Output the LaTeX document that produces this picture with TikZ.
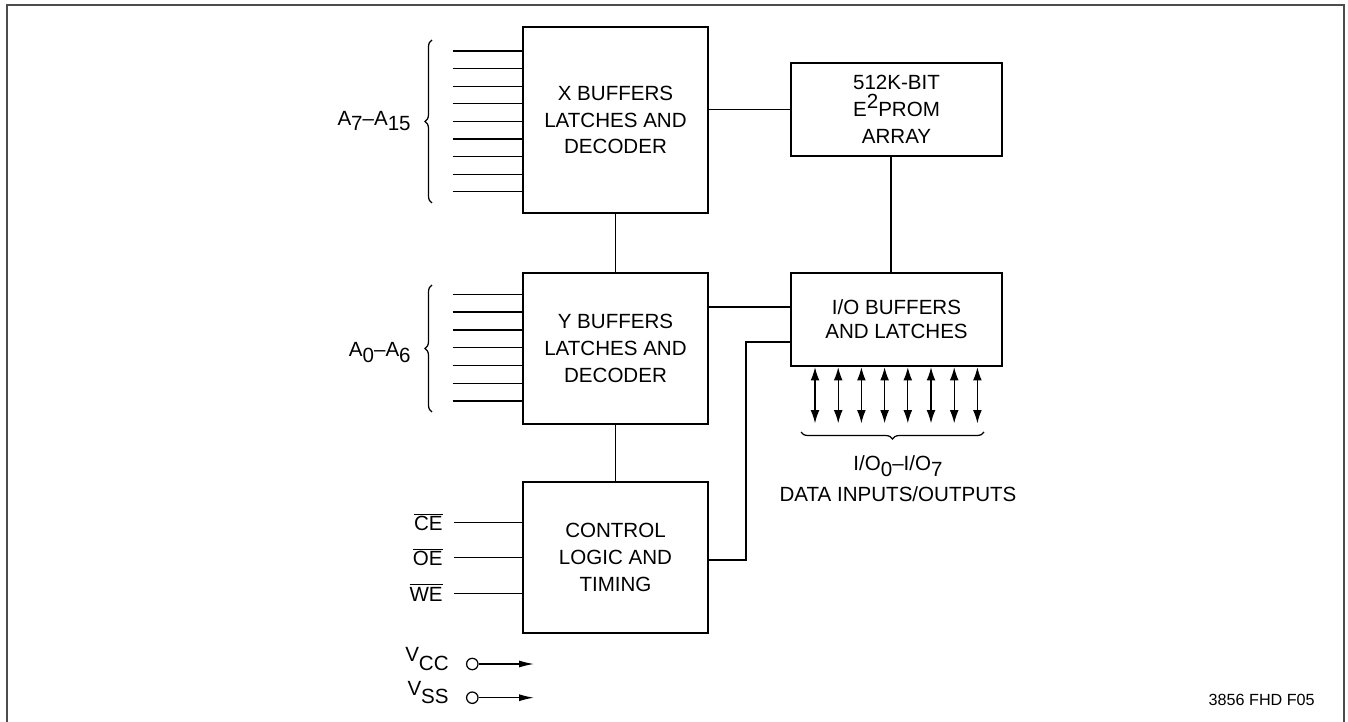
\documentclass[tikz,border=0pt]{standalone}
\usepackage{fontspec}
\setmainfont{Liberation Sans}
\usetikzlibrary{positioning, arrows.meta, decorations.pathreplacing}

\newcommand{\lowr}[1]{\raisebox{-0.5ex}{#1}}
\newcommand{\highr}[1]{\raisebox{0.75ex}{#1}}
\newcommand{\barred}[1]{$\overline{\mbox{#1}}$}

\tikzset{
    blk/.style={draw, line width=1.4pt, align=center, inner sep=0pt},
    wire/.style={line width=0.7pt},
    lbl/.style={inner sep=0pt},
    bus/.style={wire, {Latex[length=7.5pt,width=5pt]}-{Latex[length=7.5pt,width=5pt]}},
    brc/.style={wire, decorate, decoration={brace, amplitude=4pt}},
}

\begin{document}
\begin{tikzpicture}[x=0.02cm, y=-0.02cm, font=\fontsize{11.7pt}{15.3pt}\selectfont]
    \useasboundingbox (0,0) rectangle (1348,722);
    \draw[black!70, line width=1.1pt] (7,722) -- (7,5) -- (1344,5) -- (1344,722);

    % blocks
    \node[blk,minimum width=3.7cm,minimum height=3.72cm] (xbuf) at (615.5,120) {X BUFFERS\\LATCHES AND\\DECODER};
    \node[blk,minimum width=3.7cm,minimum height=3.02cm] (ybuf) at (615.5,348.5) {Y BUFFERS\\LATCHES AND\\DECODER};
    \node[blk,minimum width=3.7cm,minimum height=3.02cm] (ctrl) at (615.5,557.5) {CONTROL\\LOGIC AND\\TIMING};
    \node[blk,minimum width=4.22cm,minimum height=1.86cm] (array) at (896.5,109.5) {512K-BIT\\E\highr{2}PROM\\ARRAY};
    \node[blk,minimum width=4.22cm,minimum height=1.86cm,font=\fontsize{11.7pt}{13.8pt}\selectfont] (iobuf) at (896.5,319.5) {I/O BUFFERS\\AND LATCHES};

    % links between blocks
    \draw[wire] (xbuf.east |- array) -- (array);
    \draw[wire] (xbuf) -- (ybuf);
    \draw[wire] (ybuf) -- (ctrl);
    \draw[wire] (array.south -| 891,0) -- (iobuf.north -| 891,0);
    \draw[wire] (ybuf.east |- 0,307) -- (iobuf.west |- 0,307);
    \coordinate (bend) at (746,342);
    \draw[wire] (ctrl.east |- 0,560) -| (bend) -- (iobuf.west |- bend);

    % address inputs
    \foreach \i [evaluate=\i as \ya using 51+17.6*\i] in {0,...,8}
        \draw[wire] (452.7,\ya) -- (xbuf.west |- 0,\ya);
    \foreach \i [evaluate=\i as \ya using 294.3+17.8*\i] in {0,...,6}
        \draw[wire] (452.7,\ya) -- (ybuf.west |- 0,\ya);
    \draw[brc] (432,203) -- (432,40);
    \draw[brc] (432,412) -- (432,285);
    \node[lbl,anchor=base east] (ahigh) at (411,125.5) {A\lowr{7}--A\lowr{15}};
    \node[lbl,anchor=base east] (alow) at (411,357) {A\lowr{0}--A\lowr{6}};

    % control inputs
    \foreach \nm/\ya/\txt in {ce/522.7/CE, oe/557.7/OE, we/593.3/WE} {
        \node[lbl,anchor=base east] (\nm) at (443,\ya+8) {\barred{\txt}};
        \draw[wire] (454,\ya) -- (ctrl.west |- 0,\ya);
    }

    % supplies
    \foreach \nm/\ya/\txt in {vcc/664/CC, vss/697.7/SS} {
        \node[lbl,anchor=base east] (\nm lbl) at (449,\ya+6) {\highr{V}\txt};
        \node[draw,circle,line width=0.7pt,inner sep=0pt,minimum size=6.5pt] (\nm) at (472.3,\ya) {};
        \coordinate (\nm end) at (534,\ya);
        \draw[wire,-{Latex[length=8.5pt,width=4pt]}] (\nm) -- (\nm end);
    }

    % data bus
    \foreach \i [evaluate=\i as \xa using 815+23.2*\i] in {0,...,7}
        \draw[bus] (iobuf.south -| \xa,0) -- (\xa,423.3);
    \draw[brc] (984,432) -- (801,432);
    \node[lbl,anchor=base] (iolbl) at (898,470.7) {I/O\lowr{0}--I/O\lowr{7}};
    \node[lbl,anchor=base] (datalbl) at (898,501) {DATA INPUTS/OUTPUTS};

    \node[lbl,anchor=base,font=\fontsize{9.2pt}{11pt}\selectfont] (figno) at (1261.7,705) {3856 FHD F05};
\end{tikzpicture}
\end{document}
